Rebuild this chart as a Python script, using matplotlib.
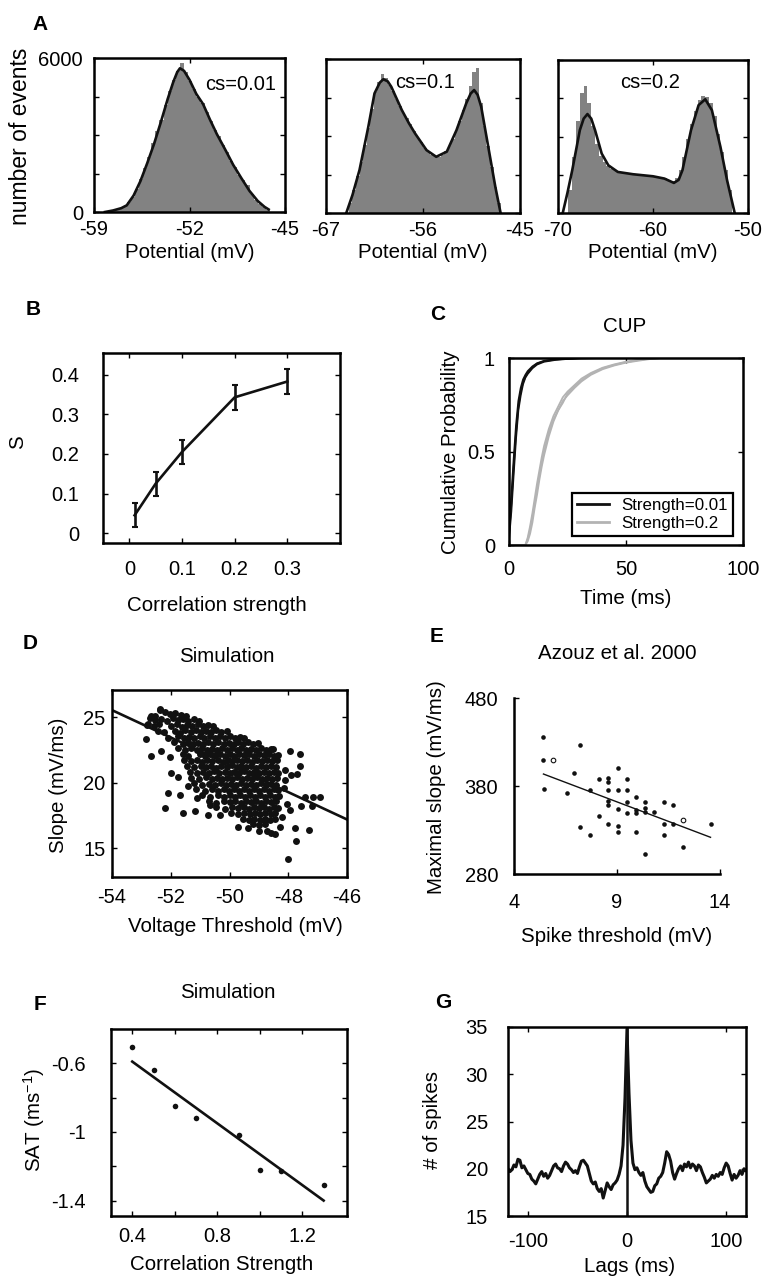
import numpy as np
import matplotlib.pyplot as plt

plt.rcParams['font.family'] = ['Liberation Sans', 'DejaVu Sans']
plt.rcParams['mathtext.default'] = 'regular'
plt.rcParams['axes.unicode_minus'] = False

# ---- A: membrane potential histograms + smoothed density ----
a1_lo, a1_bw = -57.8, 0.3
a1_counts = [70, 110, 160, 230, 380, 600, 880, 1300, 1700, 2150, 2700, 3150, 3600,
             4150, 4700, 5150, 5500, 5800, 5450, 5100, 4800, 4500, 4250, 3900, 3550,
             3200, 2950, 2600, 2350, 2000, 1750, 1450, 1250, 1050, 700, 480, 300, 180, 90]
a1_cx = [-58.2, -57.6, -57.0, -56.6, -56.1, -55.6, -55.1, -54.6, -54.1, -53.6, -53.2,
         -52.9, -52.7, -52.4, -52.0, -51.5, -51.0, -50.5, -50.0, -49.4, -48.8, -48.2,
         -47.6, -47.0, -46.5, -46.2]
a1_cy = [0, 60, 150, 260, 640, 1200, 1900, 2650, 3500, 4400, 5050, 5450, 5600, 5500,
         5150, 4600, 4200, 3600, 3040, 2450, 1840, 1320, 820, 430, 200, 100]

a2_lo, a2_bw = -64.4, 0.4
a2_counts = [400, 900, 1450, 2000, 2650, 3300, 4050, 4700, 5100, 5400, 5250, 5000, 4750,
             4450, 4150, 3900, 3700, 3450, 3200, 2950, 2750, 2550, 2380, 2250, 2200, 2180,
             2250, 2400, 2600, 2900, 3250, 3600, 4000, 4450, 4950, 5500, 5650, 4300, 3400,
             2600, 1800, 1000, 400]
a2_cx = [-64.7, -64.0, -63.2, -62.2, -61.5, -60.9, -60.5, -60.0, -59.6, -58.4, -57.6,
         -56.9, -55.6, -54.5, -53.3, -52.2, -51.1, -50.6, -50.2, -49.8, -49.4, -48.6,
         -47.8, -47.2]
a2_cy = [0, 700, 1675, 3360, 4660, 5080, 5210, 5130, 4920, 4010, 3500, 3100, 2450, 2190,
         2390, 3230, 4270, 4650, 4790, 4600, 4140, 2580, 1025, 0]

a3_lo, a3_bw = -68.9, 0.4
a3_counts = [900, 2200, 3600, 4700, 5000, 4300, 3400, 2700, 2250, 2000, 1850, 1720, 1650,
             1600, 1580, 1560, 1530, 1510, 1500, 1480, 1470, 1450, 1430, 1420, 1400, 1360,
             1300, 1250, 1380, 1700, 2200, 2900, 3500, 4000, 4450, 4600, 4550, 4300, 3800,
             3100, 2400, 1700, 900]
a3_cx = [-69.5, -69.0, -68.5, -67.7, -67.3, -66.9, -66.5, -66.1, -65.4, -64.7, -63.7,
         -62.1, -60.0, -58.8, -57.8, -57.3, -56.9, -56.0, -55.2, -54.5, -53.8, -52.9,
         -52.2, -51.4]
a3_cy = [0, 800, 1680, 3250, 3700, 3880, 3700, 3250, 2330, 1870, 1610, 1520, 1440, 1350,
         1180, 1300, 1680, 3250, 4230, 4460, 4030, 2590, 1280, 0]

# ---- B: S vs correlation strength ----
b_cs = [0.01, 0.05, 0.1, 0.2, 0.3]
b_s = [0.045, 0.125, 0.205, 0.343, 0.383]
b_err = [0.03, 0.03, 0.03, 0.032, 0.032]

# ---- C: cumulative probability ----
cup_t = [0, 1, 2, 3, 4, 5, 6, 7, 8, 10, 12, 15, 20, 25, 30, 40, 100]
cup_b1 = [0.05, 0.22, 0.42, 0.6, 0.74, 0.82, 0.87, 0.9, 0.92, 0.95, 0.97, 0.983, 0.992, 0.996, 0.999, 1, 1]
cup_b2 = [0.08, 0.26, 0.46, 0.64, 0.77, 0.84, 0.885, 0.91, 0.93, 0.955, 0.972, 0.985, 0.993, 0.997, 1, 1, 1]
cup_b3 = [0.03, 0.18, 0.38, 0.57, 0.72, 0.8, 0.86, 0.895, 0.915, 0.945, 0.965, 0.98, 0.99, 0.995, 0.998, 1, 1]
cup_tg = [0, 7, 8, 9, 10, 11, 12, 13, 14, 15, 17, 19, 21, 23, 25, 28, 31, 35, 40, 45, 50, 55, 60, 65, 100]
cup_g1 = [0, 0, 0.03, 0.08, 0.15, 0.22, 0.3, 0.37, 0.44, 0.5, 0.6, 0.67, 0.72, 0.77, 0.8, 0.84,
          0.875, 0.91, 0.94, 0.96, 0.975, 0.985, 0.994, 1, 1]
cup_g2 = [0, 0, 0.02, 0.06, 0.12, 0.2, 0.27, 0.35, 0.42, 0.48, 0.58, 0.66, 0.72, 0.76, 0.81, 0.85,
          0.88, 0.915, 0.945, 0.963, 0.978, 0.988, 0.996, 1, 1]
cup_g3 = [0, 0, 0.04, 0.1, 0.17, 0.25, 0.33, 0.4, 0.47, 0.53, 0.62, 0.69, 0.74, 0.79, 0.82, 0.855,
          0.89, 0.92, 0.948, 0.966, 0.98, 0.99, 0.997, 1, 1]

# ---- D: simulated slope vs threshold (threshold mV, slope mV/ms) ----
sim_points = [
    (-52.38, 25.58), (-52.2, 25.42), (-52.02, 25.3), (-51.84, 25.36), (-51.66, 25.22), (-51.48, 25.12), (-52.55, 25.1),
    (-52.72, 24.95), (-52.52, 24.78), (-52.34, 24.9), (-52.14, 24.72), (-51.94, 24.93), (-51.76, 24.8), (-51.58, 24.92),
    (-51.4, 24.76), (-51.22, 24.88), (-51.04, 24.74),
    (-52.82, 24.46), (-52.58, 24.32), (-52.4, 24.5), (-51.98, 24.38), (-51.8, 24.48), (-51.62, 24.3), (-51.44, 24.45),
    (-51.26, 24.34), (-51.08, 24.5), (-50.9, 24.36), (-50.74, 24.46), (-50.57, 24.32),
    (-52.42, 24.0), (-52.22, 23.86), (-51.86, 23.98), (-51.68, 23.84), (-51.5, 24.02), (-51.32, 23.9), (-51.14, 24.04),
    (-50.96, 23.88), (-50.8, 24.0), (-50.62, 23.86), (-50.45, 24.02), (-50.28, 23.9), (-50.1, 23.98),
    (-52.1, 23.44), (-51.76, 23.56), (-51.56, 23.4), (-51.38, 23.54), (-51.2, 23.42), (-51.02, 23.58), (-50.86, 23.46),
    (-50.68, 23.56), (-50.5, 23.42), (-50.33, 23.55), (-50.16, 23.44), (-49.98, 23.56), (-49.81, 23.42), (-49.64, 23.52),
    (-49.5, 23.4),
    (-51.9, 23.1), (-51.6, 22.98), (-51.42, 23.12), (-51.25, 22.96), (-51.08, 23.08), (-50.9, 22.98), (-50.72, 23.12),
    (-50.55, 23.0), (-50.38, 23.1), (-50.2, 22.96), (-50.03, 23.08), (-49.86, 22.98), (-49.7, 23.12), (-49.53, 23.0),
    (-49.36, 23.1), (-49.2, 22.96), (-49.04, 23.04),
    (-51.74, 22.66), (-51.5, 22.52), (-51.3, 22.64), (-51.12, 22.54), (-50.95, 22.68), (-50.78, 22.5), (-50.6, 22.62),
    (-50.43, 22.54), (-50.26, 22.66), (-50.1, 22.52), (-49.93, 22.64), (-49.76, 22.54), (-49.6, 22.68), (-49.43, 22.5),
    (-49.26, 22.62), (-49.1, 22.54), (-48.93, 22.66), (-48.76, 22.52), (-48.6, 22.6),
    (-51.6, 22.22), (-51.42, 22.08), (-51.02, 22.2), (-50.85, 22.06), (-50.68, 22.18), (-50.5, 22.1), (-50.33, 22.24),
    (-50.16, 22.08), (-50.0, 22.2), (-49.83, 22.06), (-49.66, 22.18), (-49.5, 22.1), (-49.33, 22.22), (-49.16, 22.06),
    (-49.0, 22.18), (-48.83, 22.1), (-48.66, 22.22), (-48.5, 22.08), (-48.34, 22.16),
    (-51.55, 21.76), (-51.3, 21.64), (-51.1, 21.74), (-50.92, 21.62), (-50.75, 21.78), (-50.58, 21.66), (-50.4, 21.74),
    (-50.23, 21.62), (-50.06, 21.76), (-49.9, 21.64), (-49.73, 21.78), (-49.56, 21.66), (-49.4, 21.74), (-49.23, 21.62),
    (-49.06, 21.76), (-48.9, 21.64), (-48.73, 21.74), (-48.56, 21.66), (-48.4, 21.72),
    (-51.45, 21.3), (-51.2, 21.18), (-50.98, 21.32), (-50.8, 21.2), (-50.62, 21.3), (-50.45, 21.16), (-50.28, 21.3),
    (-50.1, 21.2), (-49.93, 21.34), (-49.76, 21.18), (-49.6, 21.3), (-49.43, 21.2), (-49.26, 21.32), (-49.1, 21.16),
    (-48.93, 21.3), (-48.76, 21.2), (-48.6, 21.32), (-48.42, 21.22),
    (-51.35, 20.86), (-51.1, 20.72), (-50.9, 20.84), (-50.7, 20.74), (-50.52, 20.88), (-50.35, 20.74), (-50.17, 20.84),
    (-50.0, 20.72), (-49.83, 20.86), (-49.66, 20.76), (-49.5, 20.88), (-49.33, 20.72), (-49.16, 20.84), (-49.0, 20.76),
    (-48.83, 20.86), (-48.66, 20.72), (-48.5, 20.84), (-48.35, 20.76),
    (-51.3, 20.4), (-51.05, 20.28), (-50.8, 20.42), (-50.6, 20.3), (-50.42, 20.4), (-50.25, 20.26), (-50.07, 20.4),
    (-49.9, 20.3), (-49.73, 20.42), (-49.56, 20.28), (-49.4, 20.38), (-49.23, 20.3), (-49.06, 20.42), (-48.9, 20.28),
    (-48.73, 20.4), (-48.56, 20.3), (-48.4, 20.38),
    (-51.2, 19.96), (-50.95, 19.82), (-50.7, 19.94), (-50.5, 19.84), (-50.3, 19.96), (-50.12, 19.82), (-49.95, 19.94),
    (-49.78, 19.84), (-49.6, 19.98), (-49.43, 19.82), (-49.26, 19.94), (-49.1, 19.84), (-48.93, 19.96), (-48.76, 19.82),
    (-48.6, 19.94), (-48.42, 19.86),
    (-51.15, 19.5), (-50.85, 19.38), (-50.6, 19.5), (-50.4, 19.36), (-50.2, 19.5), (-50.02, 19.4), (-49.85, 19.52),
    (-49.68, 19.38), (-49.5, 19.5), (-49.33, 19.4), (-49.16, 19.52), (-49.0, 19.38), (-48.83, 19.5), (-48.66, 19.4),
    (-48.5, 19.5), (-48.35, 19.42),
    (-50.95, 19.06), (-50.65, 18.94), (-50.4, 19.04), (-50.2, 18.92), (-50.0, 19.06), (-49.82, 18.94), (-49.65, 19.06),
    (-49.48, 18.92), (-49.3, 19.04), (-49.13, 18.94), (-48.96, 19.06), (-48.8, 18.92), (-48.63, 19.04), (-48.46, 18.94),
    (-48.3, 19.02),
    (-50.7, 18.6), (-50.45, 18.48), (-50.2, 18.6), (-49.98, 18.5), (-49.8, 18.62), (-49.62, 18.48), (-49.45, 18.6),
    (-49.28, 18.5), (-49.1, 18.62), (-48.93, 18.48), (-48.76, 18.6), (-48.6, 18.5), (-48.42, 18.58),
    (-50.45, 18.14), (-50.15, 18.02), (-49.9, 18.14), (-49.7, 18.04), (-49.52, 18.16), (-49.35, 18.02), (-49.18, 18.14),
    (-49.0, 18.04), (-48.83, 18.16), (-48.66, 18.02), (-48.5, 18.12), (-48.35, 18.04),
    (-49.95, 17.7), (-49.7, 17.58), (-49.5, 17.7), (-49.3, 17.6), (-49.12, 17.72), (-48.95, 17.58), (-48.78, 17.7),
    (-48.6, 17.6), (-48.45, 17.68),
    (-49.55, 17.26), (-49.35, 17.14), (-49.15, 17.26), (-48.97, 17.14), (-48.8, 17.24), (-48.62, 17.16), (-48.45, 17.26),
    (-49.2, 16.84), (-49.0, 16.74), (-48.8, 16.86),
    # sparse outer points
    (-52.83, 23.32), (-52.66, 22.05), (-52.34, 22.45), (-52.2, 18.05), (-52.09, 19.2), (-51.98, 20.73), (-52.03, 21.95),
    (-51.75, 20.47), (-51.69, 19.07), (-51.58, 17.67), (-51.41, 19.76), (-51.18, 17.87), (-51.12, 18.82), (-50.73, 17.54),
    (-50.67, 18.3), (-50.33, 17.54), (-49.71, 16.65), (-49.36, 16.52), (-48.45, 16.09), (-48.28, 16.65), (-48.0, 14.18),
    (-47.72, 15.58), (-47.77, 16.52), (-47.29, 16.4), (-47.55, 18.23), (-47.2, 18.2), (-46.92, 18.9), (-47.15, 18.9),
    (-47.43, 18.9), (-47.94, 22.45), (-47.6, 22.2), (-47.6, 21.3), (-47.7, 20.7), (-47.89, 20.6), (-48.53, 22.56),
    (-52.66, 25.1), (-52.37, 25.68), (-52.78, 24.5), (-48.1, 21.0), (-48.15, 19.6), (-48.05, 18.4), (-48.2, 17.4),
    (-47.95, 17.9), (-48.1, 20.2), (-49.0, 16.3), (-48.6, 16.2), (-48.73, 16.3),
]
sim_thr = [p[0] for p in sim_points]
sim_slope = [p[1] for p in sim_points]
sim_fit_x = [-54, -46]
sim_fit_y = [25.56, 17.2]

# ---- E: Azouz et al. 2000 ----
az_thr = [5.40, 5.40, 5.48, 7.21, 6.89, 6.57, 7.67, 7.21, 7.67, 8.11, 8.11, 8.56, 8.56, 8.56, 8.56,
          8.56, 8.56, 9.03, 9.03, 9.03, 9.03, 9.03, 9.49, 9.49, 9.49, 9.49, 9.94, 9.94, 9.94, 9.94,
          10.38, 10.38, 10.38, 10.38, 10.82, 11.27, 11.27, 11.27, 11.73, 11.73, 12.21, 13.54]
az_slope = [436, 410, 377, 427, 395, 372, 376, 333, 324, 388, 346, 389, 385, 376, 363,
            358, 337, 401, 376, 354, 334, 328, 388, 376, 362, 349, 367, 353, 349, 328,
            362, 355, 351, 303, 350, 362, 337, 324, 358, 337, 311, 337]
az_open_thr = [5.87, 12.21]
az_open_slope = [409.5, 341.4]
az_fit_x = [5.43, 13.54]
az_fit_y = [393.6, 321.7]

# ---- F: SAT vs correlation strength ----
f_cs = [0.4, 0.5, 0.6, 0.7, 0.9, 1.0, 1.1, 1.3]
f_sat = [-0.507, -0.64, -0.85, -0.917, -1.02, -1.22, -1.23, -1.31]
f_fit_x = [0.4, 1.3]
f_fit_y = [-0.59, -1.40]

# ---- G: cross-correlogram ----
g_lags = np.arange(-120, 121, 2)
g_spikes = [20.0, 19.7, 19.9, 20.4, 20.2, 21.0, 20.9, 20.1, 20.3, 19.9, 19.5, 19.4, 18.9, 18.7, 18.4,
            18.9, 19.4, 19.7, 19.2, 19.5, 19.0, 19.3, 19.8, 20.3, 20.5, 20.1, 20.0, 19.7, 20.3, 20.7,
            20.5, 20.1, 19.9, 19.6, 19.8, 19.5, 20.2, 20.8, 20.9, 20.6, 20.3, 19.5, 18.7, 18.4, 18.6,
            17.9, 17.6, 17.9, 16.9, 17.7, 18.5, 18.1, 17.8, 18.3, 18.5, 18.8, 19.4, 20.3, 22.5, 27.5,
            34.8, 28.0, 23.0, 20.6, 19.9, 20.1, 19.6, 19.3, 19.6, 18.7, 18.1, 17.8, 17.5, 17.6, 18.2,
            18.4, 19.0, 19.2, 19.6, 20.6, 21.8, 21.5, 20.8, 19.6, 18.9, 19.5, 20.0, 20.3, 19.8, 20.5,
            20.2, 20.7, 20.1, 20.5, 20.3, 19.8, 20.4, 20.2, 19.6, 19.1, 18.5, 18.7, 18.9, 19.3, 19.0,
            19.4, 19.2, 19.6, 19.4, 20.1, 20.6, 20.3, 19.5, 18.8, 19.4, 19.0, 19.3, 19.8, 19.4, 20.0,
            19.8]

W, H = 764, 1278
fig = plt.figure(figsize=(W / 100, H / 100), dpi=100)
FS = 14.5


def box(l, t, r, b):
    return fig.add_axes([l / W, 1 - b / H, (r - l) / W, (b - t) / H])


def style(ax, xpad, ypad, lw=1.8):
    for s in ax.spines.values():
        s.set_linewidth(lw)
    ax.tick_params(direction='in', length=3.5, width=1, top=True, right=True, labelsize=FS)
    ax.tick_params(axis='x', pad=xpad)
    ax.tick_params(axis='y', pad=ypad)


def xlab(ax, text, x, y, fs=14.8):
    ax.set_xlabel(text, fontsize=fs, va='center')
    ax.xaxis.set_label_coords(x / W, 1 - y / H, transform=fig.transFigure)


def ylab(ax, text, x, y, fs=14.8):
    ax.set_ylabel(text, fontsize=fs, va='center')
    ax.yaxis.set_label_coords(x / W, 1 - y / H, transform=fig.transFigure)


def ftext(x, y, s, **kw):
    fig.text(x / W, 1 - y / H, s, ha='center', va='center', **kw)


# A panels
hist_panels = [
    ((94, 58, 285, 212), a1_lo, a1_bw, a1_counts, a1_cx, a1_cy, (-59, -45), [-59, -52, -45], 'cs=0.01', (241, 85)),
    ((326, 59, 520, 213), a2_lo, a2_bw, a2_counts, a2_cx, a2_cy, (-67, -45), [-67, -56, -45], 'cs=0.1', (425, 83)),
    ((558, 60, 748, 213), a3_lo, a3_bw, a3_counts, a3_cx, a3_cy, (-70, -50), [-70, -60, -50], 'cs=0.2', (650, 83)),
]
for i, (bx, lo, bw, counts, cx, cy, xl, xt, tag, tpos) in enumerate(hist_panels):
    ax = box(*bx)
    centers = lo + bw / 2 + bw * np.arange(len(counts))
    ax.bar(centers, counts, width=bw, color='#828282', linewidth=0)
    ax.plot(cx, cy, color='#111111', lw=1.9)
    ax.set_xlim(*xl)
    ax.set_ylim(0, 6000)
    ax.set_xticks(xt)
    ax.set_yticks([0, 1500, 3000, 4500, 6000])
    if i == 0:
        ax.set_yticklabels(['0', '', '', '', '6000'])
        ylab(ax, 'number of events', 21, 136, fs=16.5)
    else:
        ax.set_yticklabels([])
    style(ax, 6, 8)
    xlab(ax, 'Potential (mV)', (bx[0] + bx[2]) / 2, 253)
    ftext(tpos[0], tpos[1], tag, fontsize=FS)

# B
axb = box(103, 353, 340, 543)
axb.errorbar(b_cs, b_s, yerr=b_err, color='#111111', lw=1.9, elinewidth=1.9, capsize=2, capthick=1.5)
axb.set_xlim(-0.05, 0.4)
axb.set_ylim(-0.025, 0.455)
axb.set_xticks([0, 0.1, 0.2, 0.3])
axb.set_xticklabels(['0', '0.1', '0.2', '0.3'])
axb.set_yticks([0, 0.1, 0.2, 0.3, 0.4])
axb.set_yticklabels(['0', '0.1', '0.2', '0.3', '0.4'])
style(axb, 12, 17)
xlab(axb, 'Correlation strength', 217, 605)
ylab(axb, 'S', 18, 442)

# C
axc = box(509, 358, 743, 545)
axc.plot(cup_t, cup_b1, color='#111111', lw=1.3, label='Strength=0.01')
axc.plot(cup_t, cup_b2, color='#111111', lw=1.3)
axc.plot(cup_t, cup_b3, color='#111111', lw=1.3)
axc.plot(cup_tg, cup_g1, color='#b3b3b3', lw=1.3, label='Strength=0.2')
axc.plot(cup_tg, cup_g2, color='#b3b3b3', lw=1.3)
axc.plot(cup_tg, cup_g3, color='#b3b3b3', lw=1.3)
axc.set_xlim(0, 100)
axc.set_ylim(0, 1)
axc.set_xticks([0, 50, 100])
axc.set_yticks([0, 0.5, 1])
axc.set_yticklabels(['0', '0.5', '1'])
style(axc, 11, 10)
leg = axc.legend(loc='lower right', bbox_to_anchor=(0.957, 0.048), borderaxespad=0, fontsize=12.2,
                 fancybox=False, edgecolor='black', framealpha=1, handlelength=1.9,
                 handletextpad=0.7, borderpad=0.3, labelspacing=0.15)
leg.get_frame().set_linewidth(1.6)
for ln in leg.get_lines():
    ln.set_linewidth(2)
xlab(axc, 'Time (ms)', 626, 598)
ylab(axc, 'Cumulative Probability', 451, 452)
ftext(625, 327, 'CUP', fontsize=14.8)

# D
axd = box(112, 690, 347, 877)
axd.plot(sim_thr, sim_slope, 'o', color='#111111', ms=5.0, mew=0)
axd.plot(sim_fit_x, sim_fit_y, color='#111111', lw=1.9)
axd.set_xlim(-54, -46)
axd.set_ylim(12.8, 27.1)
axd.set_xticks([-54, -52, -50, -48, -46])
axd.set_yticks([15, 20, 25])
style(axd, 8, 4.5)
xlab(axd, 'Voltage Threshold (mV)', 235, 926)
ylab(axd, 'Slope (mV/ms)', 58, 785)
ftext(227, 657, 'Simulation', fontsize=14.8)

# E
axe = box(514, 698, 720, 874)
axe.plot(az_thr, az_slope, 'o', color='#111111', ms=3.3, mew=0)
axe.plot(az_open_thr, az_open_slope, 'o', mfc='white', mec='#111111', ms=3.3, mew=0.8)
axe.plot(az_fit_x, az_fit_y, color='#111111', lw=1.0)
axe.set_xlim(4, 14)
axe.set_ylim(280, 480)
axe.set_xticks([4, 9, 14])
axe.set_yticks([280, 380, 480])
style(axe, 14, 11.5)
axe.tick_params(top=False, right=False)
axe.spines['top'].set_visible(False)
axe.spines['right'].set_visible(False)
xlab(axe, 'Spike threshold (mV)', 617, 937)
ylab(axe, 'Maximal slope (mV/ms)', 436, 787)
ftext(617, 653, 'Azouz et al. 2000', fontsize=14.8)

# F
axf = box(111, 1029, 347, 1216)
axf.plot(f_cs, f_sat, 'o', color='#111111', ms=4, mew=0)
axf.plot(f_fit_x, f_fit_y, color='#111111', lw=1.9)
axf.set_xlim(0.3, 1.41)
axf.set_ylim(-1.49, -0.4)
axf.set_xticks([0.4, 0.6, 0.8, 1.0, 1.2])
axf.set_xticklabels(['0.4', '', '0.8', '', '1.2'])
axf.set_yticks([-1.4, -1.2, -1.0, -0.8, -0.6])
axf.set_yticklabels(['-1.4', '', '-1', '', '-0.6'])
style(axf, 8, 18)
xlab(axf, 'Correlation Strength', 222, 1265)
ylab(axf, 'SAT (ms$^{-1}$)', 34, 1120)
ftext(228, 993, 'Simulation', fontsize=14.8)

# G
axg = box(508, 1027, 746, 1216)
axg.plot(g_lags, g_spikes, color='#111111', lw=2.2)
axg.axvline(0, color='#111111', lw=1.8)
axg.set_xlim(-120, 120)
axg.set_ylim(15, 35)
axg.set_xticks([-100, 0, 100])
axg.set_yticks([15, 20, 25, 30, 35])
style(axg, 11.5, 14.5)
xlab(axg, 'Lags (ms)', 630, 1267)
ylab(axg, '# of spikes', 432, 1120)

# panel letters
for letter, (x, y) in zip('ABCDEFG', [(40, 24), (33, 310), (438, 315), (30, 643), (437, 637), (40, 1004), (443, 1003)]):
    ftext(x, y, letter, fontsize=15, fontweight='bold')

fig.savefig('out.png', dpi=100)
